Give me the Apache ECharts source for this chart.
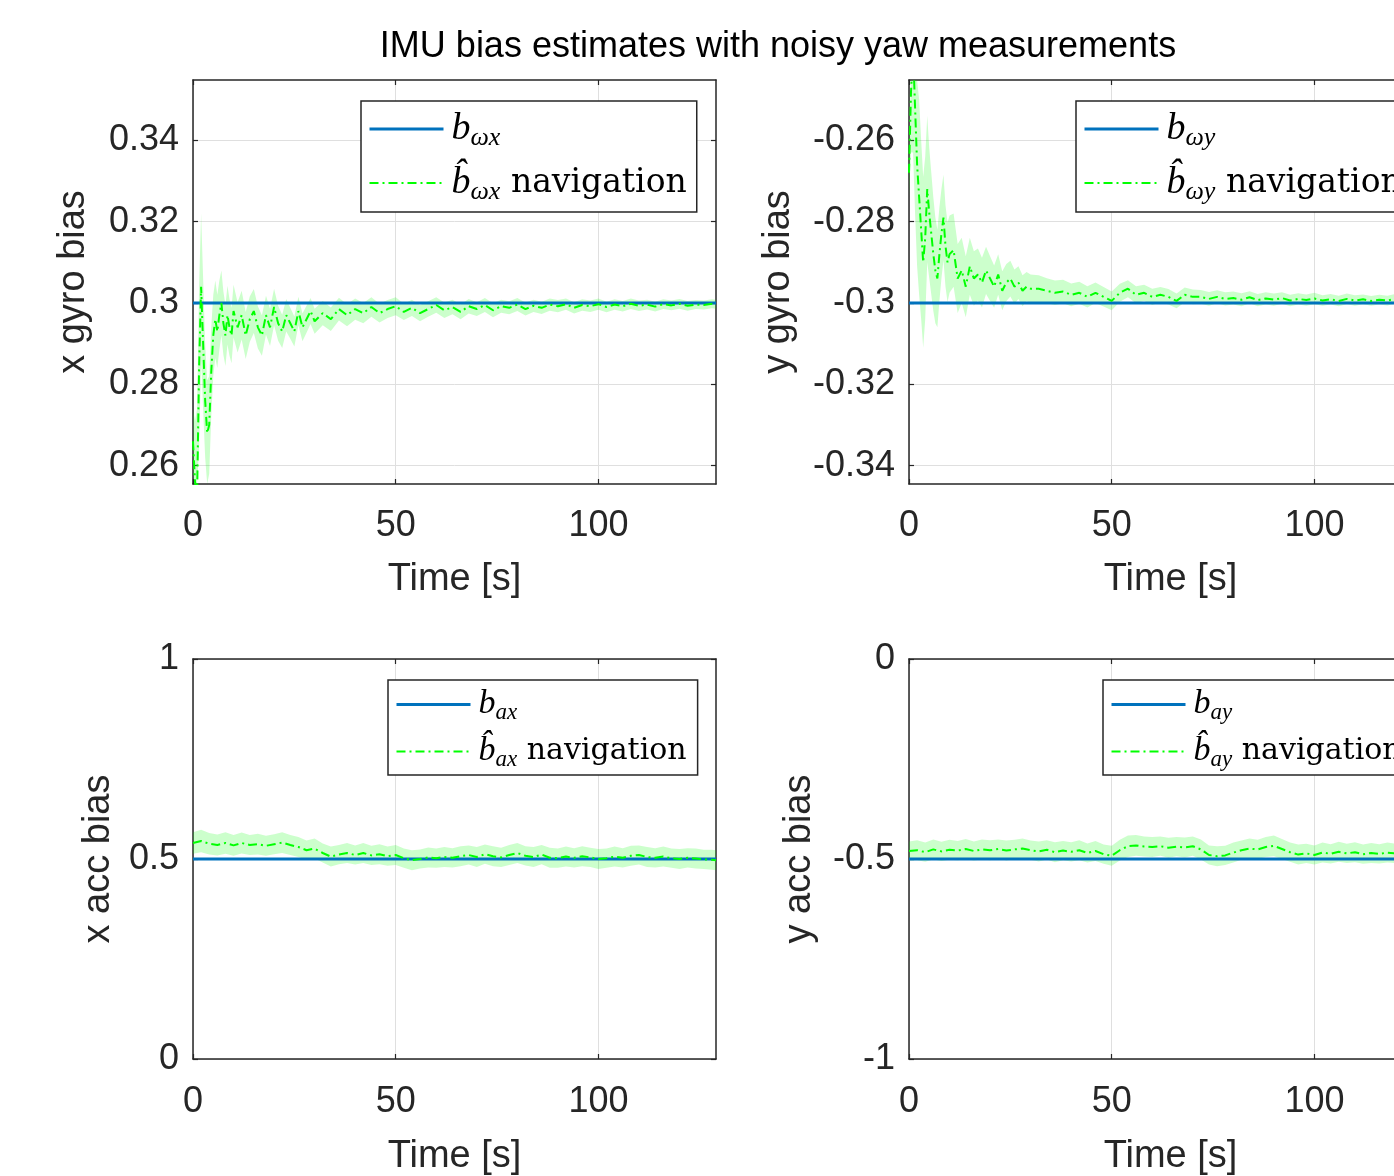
<!DOCTYPE html>
<html><head><meta charset="utf-8">
<script src="https://cdn.jsdelivr.net/npm/echarts@6/dist/echarts.min.js"></script>
<style>html,body{margin:0;padding:0;background:#fff}#c{width:1394px;height:1176px}</style>
</head><body><div id="c"></div>
<script>
// ---------- data ----------
const TITLE = 'IMU bias estimates with noisy yaw measurements';
const X_LABEL = 'Time [s]';
const Y_LABELS = ['x gyro bias', 'y gyro bias', 'x acc bias', 'y acc bias'];
const X_TICKS = [0, 50, 100];
const X_RANGE = [0, 129];
const Y_RANGES = [[0.2555, 0.3548], [-0.3445, -0.2452], [0, 1], [-1, 0]];
const Y_TICKS = [[0.26, 0.28, 0.3, 0.32, 0.34], [-0.34, -0.32, -0.3, -0.28, -0.26], [0, 0.5, 1], [-1, -0.5, 0]];
const TRUE_BIAS = [0.3, -0.3, 0.5, -0.5];

const T_TOP = [0,0.5,1,1.5,2,2.5,3,3.5,4,4.5,5,5.5,6,6.5,7,7.5,8,8.5,9,9.5,10,
  11,12,13,14,15,16,17,18,19,20,21,22,23,24,25,26,27,28,29,30,
  32,34,36,38,40,42,44,46,48,50,52,54,56,58,60,62,64,66,68,70,
  72,74,76,78,80,82,84,86,88,90,92,94,96,98,100,102,104,106,108,110,
  112,114,116,118,120,122,124,126,128,129];

const EST_XG = [0.266,0.256,0.252,0.284,0.304,0.290,0.276,0.268,0.270,0.283,0.292,0.296,0.293,0.297,0.300,0.295,0.292,0.297,0.294,0.292,0.298,
  0.294,0.297,0.292,0.296,0.298,0.294,0.292,0.297,0.294,0.299,0.295,0.293,0.297,0.295,0.293,0.298,0.294,0.296,0.298,0.2955,
  0.2975,0.296,0.2985,0.297,0.2985,0.2975,0.299,0.2975,0.2985,0.2992,
  0.2978,0.2988,0.2975,0.2985,0.2995,0.2982,0.299,0.2978,0.2992,0.2985,
  0.2995,0.2982,0.2992,0.2988,0.2996,0.2985,0.2993,0.2988,0.2996,0.2992,
  0.2997,0.2988,0.2995,0.2992,0.2997,0.299,0.2996,0.2992,0.2998,0.2993,
  0.2996,0.2991,0.2997,0.2994,0.2998,0.2993,0.2996,0.2995,0.2998,0.2997];
const BAND_XG = [0.008,0.015,0.022,0.02,0.018,0.016,0.014,0.013,0.012,0.011,0.010,0.0095,0.009,0.0085,0.008,0.0078,0.0075,0.0072,0.007,0.0068,0.0065,
  0.0062,0.006,0.0058,0.0056,0.0054,0.0052,0.005,0.0048,0.0046,0.0045,0.0043,0.0041,0.004,0.0038,0.0037,0.0035,0.0034,0.0033,0.0032,0.0031,
  0.003,0.0029,0.0028,0.0027,0.0026,0.0025,0.0024,0.0023,0.0022,0.0022,
  0.002,0.002,0.002,0.0019,0.0019,0.0019,0.0018,0.0018,0.0018,0.0017,
  0.0017,0.0017,0.0016,0.0016,0.0016,0.0016,0.0015,0.0015,0.0015,0.0015,
  0.0014,0.0014,0.0014,0.0014,0.0014,0.0013,0.0013,0.0013,0.0013,0.0013,
  0.0012,0.0012,0.0012,0.0012,0.0012,0.0012,0.0011,0.0011,0.0011,0.0011];

const EST_YG = [-0.268,-0.248,-0.238,-0.252,-0.266,-0.274,-0.282,-0.290,-0.284,-0.272,-0.278,-0.283,-0.288,-0.292,-0.294,-0.288,-0.283,-0.279,-0.286,-0.290,-0.288,
  -0.287,-0.294,-0.292,-0.296,-0.291,-0.294,-0.293,-0.295,-0.292,-0.294,-0.296,-0.293,-0.297,-0.295,-0.294,-0.296,-0.295,-0.297,-0.296,-0.2965,
  -0.2965,-0.297,-0.2975,-0.2972,-0.298,-0.2975,-0.2985,-0.2975,-0.2985,-0.2995,
  -0.2975,-0.2965,-0.298,-0.2975,-0.2985,-0.298,-0.2985,-0.2995,-0.298,-0.2985,
  -0.2985,-0.299,-0.2985,-0.299,-0.2988,-0.2992,-0.2986,-0.2993,-0.2989,-0.2992,
  -0.2988,-0.2994,-0.299,-0.2993,-0.2989,-0.2994,-0.2991,-0.2995,-0.299,-0.2994,
  -0.2991,-0.2995,-0.2992,-0.2994,-0.299,-0.2995,-0.2992,-0.2994,-0.2993,-0.2994];
const BAND_YG = [0.006,0.015,0.025,0.026,0.025,0.024,0.022,0.021,0.02,0.018,0.016,0.015,0.014,0.013,0.012,0.0115,0.011,0.0105,0.01,0.0098,0.0095,
  0.009,0.0085,0.008,0.0075,0.007,0.0067,0.0064,0.0061,0.0058,0.0055,0.0052,0.005,0.0048,0.0046,0.0044,0.0042,0.004,0.0038,0.0036,0.0035,
  0.0033,0.0031,0.003,0.0029,0.0028,0.0027,0.0026,0.0025,0.0024,0.0023,
  0.0022,0.0021,0.0021,0.002,0.002,0.0019,0.0019,0.0018,0.0018,0.0018,
  0.0017,0.0017,0.0016,0.0016,0.0016,0.0016,0.0015,0.0015,0.0015,0.0015,
  0.0014,0.0014,0.0014,0.0014,0.0014,0.0013,0.0013,0.0013,0.0013,0.0013,
  0.0012,0.0012,0.0012,0.0012,0.0012,0.0012,0.0011,0.0011,0.0011,0.0011];

const T_BOT = [0,2,4,6,8,10,12,14,16,18,20,22,24,26,28,30,32,34,36,38,
  40,42,44,46,48,50,52,54,56,58,60,62,64,66,68,70,72,74,76,78,
  80,82,84,86,88,90,92,94,96,98,100,102,104,106,108,110,112,114,116,118,
  120,122,124,126,128,129];
const EST_AX = [0.540,0.545,0.538,0.535,0.540,0.534,0.540,0.535,0.537,0.533,
  0.537,0.541,0.535,0.530,0.522,0.526,0.515,0.506,0.511,0.515,
  0.510,0.515,0.509,0.512,0.507,0.510,0.502,0.497,0.500,0.504,
  0.502,0.505,0.503,0.507,0.510,0.505,0.512,0.507,0.504,0.510,
  0.515,0.508,0.505,0.511,0.503,0.502,0.506,0.503,0.507,0.504,
  0.500,0.502,0.506,0.503,0.508,0.510,0.505,0.503,0.506,0.502,
  0.500,0.503,0.501,0.499,0.498,0.497];
const BAND_AX = [0.027,0.028,0.027,0.026,0.027,0.026,0.026,0.025,0.026,0.025,
  0.025,0.026,0.025,0.025,0.024,0.025,0.024,0.025,0.024,0.025,
  0.024,0.025,0.024,0.025,0.024,0.025,0.024,0.025,0.024,0.025,
  0.024,0.025,0.024,0.025,0.024,0.025,0.024,0.025,0.024,0.025,
  0.025,0.024,0.025,0.024,0.025,0.024,0.025,0.024,0.025,0.024,
  0.025,0.024,0.025,0.024,0.025,0.024,0.025,0.024,0.025,0.024,
  0.025,0.024,0.025,0.024,0.025,0.025];
const EST_AY = [-0.480,-0.478,-0.483,-0.476,-0.481,-0.477,-0.479,-0.475,-0.480,-0.476,
  -0.478,-0.475,-0.479,-0.476,-0.474,-0.478,-0.481,-0.477,-0.483,-0.479,
  -0.482,-0.478,-0.485,-0.480,-0.488,-0.492,-0.478,-0.468,-0.466,-0.469,
  -0.470,-0.468,-0.472,-0.469,-0.471,-0.468,-0.476,-0.490,-0.493,-0.491,
  -0.484,-0.478,-0.474,-0.476,-0.470,-0.467,-0.475,-0.483,-0.489,-0.486,
  -0.490,-0.484,-0.487,-0.482,-0.486,-0.483,-0.488,-0.485,-0.487,-0.484,
  -0.486,-0.488,-0.485,-0.487,-0.486,-0.487];
const BAND_AY = [0.024,0.025,0.024,0.025,0.024,0.025,0.024,0.025,0.024,0.025,
  0.025,0.024,0.025,0.024,0.025,0.024,0.025,0.024,0.025,0.024,
  0.024,0.025,0.024,0.025,0.024,0.025,0.026,0.027,0.026,0.025,
  0.025,0.024,0.025,0.024,0.025,0.024,0.025,0.024,0.025,0.024,
  0.025,0.024,0.025,0.024,0.025,0.026,0.025,0.024,0.025,0.024,
  0.024,0.025,0.024,0.025,0.024,0.025,0.024,0.025,0.024,0.025,
  0.024,0.025,0.024,0.025,0.024,0.025];

const LEGEND_TEXT = [
  ['{b|b}{s|ωx}', '{b|b̂}{s|ωx}{n| navigation}'],
  ['{b|b}{s|ωy}', '{b|b̂}{s|ωy}{n| navigation}'],
  ['{b|b}{s|ax}', '{b|b̂}{s|ax}{n| navigation}'],
  ['{b|b}{s|ay}', '{b|b̂}{s|ay}{n| navigation}']
];
const SERIES_NAMES = [['b_wx','bh_wx'],['b_wy','bh_wy'],['b_ax','bh_ax'],['b_ay','bh_ay']];

// ---------- layout ----------
const GRIDS = [
  {left:193, top:80, width:523, height:404},
  {left:909, top:80, width:523, height:404},
  {left:193, top:659, width:523, height:400},
  {left:909, top:659, width:523, height:400}
];
const Y_NAME_GAP = [100, 111, 75, 90];
const LEGEND_POS = [
  {left:361, top:101, pad:[6,10,7,7], gap:10, k:1},
  {left:1076, top:101, pad:[6,10,7,7], gap:10, k:1},
  {left:388, top:680, pad:[5,11,4,7], gap:8, k:0.9},
  {left:1103, top:680, pad:[5,11,4,7], gap:8, k:0.9}
];

const AX_COLOR = '#262626';
const SANS = 'Liberation Sans, Arial, sans-serif';
const SERIF = 'Liberation Serif, Times New Roman, serif';
const SERIF2 = 'DejaVu Serif, Liberation Serif, serif';

const xAxes = [], yAxes = [], series = [], legends = [];
const nameToText = {};

const ESTS = [[T_TOP, EST_XG, BAND_XG], [T_TOP, EST_YG, BAND_YG], [T_BOT, EST_AX, BAND_AX], [T_BOT, EST_AY, BAND_AY]];

for (let i = 0; i < 4; i++) {
  const [ymin, ymax] = Y_RANGES[i];
  const top = i < 2;
  xAxes.push({type:'value', gridIndex:i, min:X_RANGE[0], max:X_RANGE[1], position:'bottom',
    name: X_LABEL, nameLocation:'middle', nameGap: top ? 77 : 79,
    nameTextStyle:{fontFamily:SANS, fontSize:38, color:AX_COLOR},
    axisLine:{show:true, onZero:false, lineStyle:{color:AX_COLOR, width:1.5}},
    axisTick:{show:true, inside:true, length:5, customValues:X_TICKS, lineStyle:{color:AX_COLOR, width:1.2}},
    axisLabel:{show:true, customValues:X_TICKS, margin: top ? 24 : 25, fontFamily:SANS, fontSize:36, color:AX_COLOR},
    splitLine:{show:true, lineStyle:{color:'#dfdfdf', width:1}}
  });
  xAxes.push({type:'value', gridIndex:i, min:X_RANGE[0], max:X_RANGE[1], position:'top',
    axisLine:{show:true, onZero:false, lineStyle:{color:AX_COLOR, width:1.5}},
    axisTick:{show:true, inside:true, length:5, customValues:X_TICKS, lineStyle:{color:AX_COLOR, width:1.2}},
    axisLabel:{show:false}, splitLine:{show:false}
  });
  yAxes.push({type:'value', gridIndex:i, min:ymin, max:ymax, position:'left',
    name: Y_LABELS[i], nameLocation:'middle', nameGap:Y_NAME_GAP[i],
    nameTextStyle:{fontFamily:SANS, fontSize:38, color:AX_COLOR},
    axisLine:{show:true, onZero:false, lineStyle:{color:AX_COLOR, width:1.5}},
    axisTick:{show:true, inside:true, length:5, customValues:Y_TICKS[i], lineStyle:{color:AX_COLOR, width:1.2}},
    axisLabel:{show:true, customValues:Y_TICKS[i], margin:14, fontFamily:SANS, fontSize:36, color:AX_COLOR, padding:[4,0,0,0]},
    splitLine:{show:true, lineStyle:{color:'#dfdfdf', width:1}}
  });
  yAxes.push({type:'value', gridIndex:i, min:ymin, max:ymax, position:'right',
    axisLine:{show:true, onZero:false, lineStyle:{color:AX_COLOR, width:1.5}},
    axisTick:{show:true, inside:true, length:5, customValues:Y_TICKS[i], lineStyle:{color:AX_COLOR, width:1.2}},
    axisLabel:{show:false}, splitLine:{show:false}
  });

  const xi = i * 2, yi = i * 2;
  const [t, est, w] = ESTS[i];
  const bandData = t.map((x, k) => [x, est[k] - w[k], est[k] + w[k]]);
  series.push({
    type:'custom', xAxisIndex:xi, yAxisIndex:yi, clip:true, silent:true, z:1,
    data: bandData, encode:{x:0, y:[1,2]},
    renderItem: function (params, api) {
      if (params.dataIndex !== 0) return null;
      const cl = v => Math.max(ymin, Math.min(ymax, v));
      const pts = [];
      for (let k = 0; k < bandData.length; k++) pts.push(api.coord([bandData[k][0], cl(bandData[k][2])]));
      for (let k = bandData.length - 1; k >= 0; k--) pts.push(api.coord([bandData[k][0], cl(bandData[k][1])]));
      return {type:'polygon', shape:{points:pts}, style:{fill:'rgba(0,255,0,0.2)', stroke:null}};
    }
  });
  const [nTrue, nEst] = SERIES_NAMES[i];
  nameToText[nTrue] = LEGEND_TEXT[i][0];
  nameToText[nEst] = LEGEND_TEXT[i][1];
  series.push({
    type:'line', name:nTrue, xAxisIndex:xi, yAxisIndex:yi, z:2,
    data: [[X_RANGE[0], TRUE_BIAS[i]], [X_RANGE[1], TRUE_BIAS[i]]],
    symbol:'none', showSymbol:false,
    lineStyle:{color:'#0072BD', width:3}, itemStyle:{color:'#0072BD'}
  });
  series.push({
    type:'line', name:nEst, xAxisIndex:xi, yAxisIndex:yi, z:3,
    data: t.map((x, k) => [x, est[k]]),
    symbol:'none', showSymbol:false,
    lineStyle:{color:'#00FF00', width:2, type:[9,4,2,4]}, itemStyle:{color:'#00FF00'}
  });
  const lp = LEGEND_POS[i];
  const k = lp.k;
  legends.push({
    show:true, orient:'vertical', left:lp.left, top:lp.top, padding:lp.pad, itemGap:lp.gap,
    data:[nTrue, nEst], selectedMode:false,
    itemWidth:74, itemHeight:16,
    itemStyle:{opacity:0, borderWidth:0},
    lineStyle:{width:'inherit'},
    backgroundColor:'#fff', borderColor:AX_COLOR, borderWidth:1.5, borderRadius:0,
    formatter: name => nameToText[name],
    textStyle:{
      color:'#000',
      padding:[0,0,0,3],
      rich:{
        b:{fontFamily:SERIF, fontStyle:'italic', fontSize:Math.round(38*k), lineHeight:Math.round(42*k), color:'#000'},
        s:{fontFamily:SERIF, fontStyle:'italic', fontSize:Math.round(26*k), lineHeight:Math.round(26*k), padding:[Math.round(18*k),0,0,0], color:'#000'},
        n:{fontFamily:SERIF2, fontSize:Math.round(33*k), lineHeight:Math.round(42*k), color:'#000'}
      }
    }
  });
}

const chart = echarts.init(document.getElementById('c'), null, {renderer:'canvas'});
chart.setOption({
  animation:false,
  backgroundColor:'#fff',
  grid: GRIDS.map(g => Object.assign({containLabel:false, outerBoundsMode:'none'}, g)),
  xAxis: xAxes,
  yAxis: yAxes,
  legend: legends,
  series: series,
  graphic:[{type:'text', x:778, y:47, style:{text:TITLE, fontFamily:SANS, fontSize:36, fill:'#000', textAlign:'center', textVerticalAlign:'middle'}}]
});
</script>
</body></html>
